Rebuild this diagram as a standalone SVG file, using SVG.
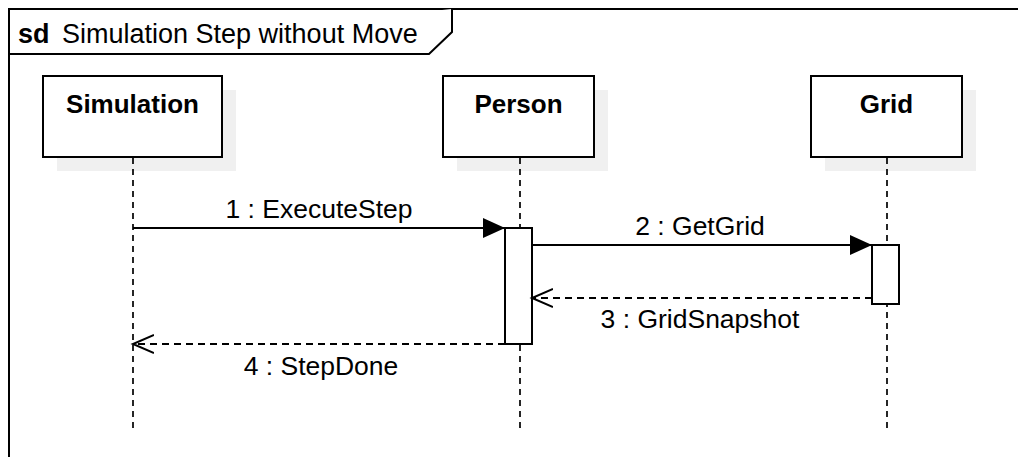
<svg xmlns="http://www.w3.org/2000/svg" width="1018" height="457" viewBox="0 0 1018 457">
<style>
text{font-family:"Liberation Sans",Arial,sans-serif;fill:#000}
.name{font-size:26px;font-weight:bold;text-anchor:middle}
.lbl{font-size:26.5px;text-anchor:middle}
.box{fill:#fff;stroke:#000;stroke-width:2}
.shadow{fill:#f0f0f0;stroke:none}
.life{stroke:#000;stroke-width:1.7;stroke-dasharray:6 5;fill:none}
.msg{stroke:#000;stroke-width:2;fill:none}
.ret{stroke:#000;stroke-width:2;fill:none;stroke-dasharray:7 5}
.act{fill:#fff;stroke:#000;stroke-width:2}
</style>
<defs>
<marker id="filled" markerWidth="24" markerHeight="22" refX="22" refY="10" orient="auto" markerUnits="userSpaceOnUse">
<path d="M0,0 L22,10 L0,20 Z" fill="#000"/>
</marker>
<marker id="open" markerWidth="24" markerHeight="22" refX="21" refY="10" orient="auto" markerUnits="userSpaceOnUse">
<path d="M0,1 L21,10 L0,19" fill="none" stroke="#000" stroke-width="2"/>
</marker>
</defs>
<rect x="0" y="0" width="1018" height="457" fill="#fff"/>
<g id="frame">
<rect x="9" y="9" width="1100" height="500" fill="#fff" stroke="#000" stroke-width="2"/>
<path d="M9,54 L429,54 L452,32 L452,9" fill="#fff" stroke="#000" stroke-width="2"/>
<text x="18" y="43" style="font-size:27px;font-weight:bold">sd</text>
<text x="62" y="43" style="font-size:27px">Simulation Step without Move</text>
</g>
<g id="simulation">
<rect class="shadow" x="57" y="90" width="179" height="81"/>
<line class="life" x1="133" y1="158" x2="133" y2="428"/>
<rect class="box" x="43" y="76" width="179" height="81"/>
<text class="name" x="132.5" y="113">Simulation</text>
</g>
<g id="person">
<rect class="shadow" x="457" y="90" width="151" height="81"/>
<line class="life" x1="520" y1="158" x2="520" y2="428"/>
<rect class="box" x="443" y="76" width="151" height="81"/>
<text class="name" x="518.5" y="113">Person</text>
<rect class="act" x="505" y="228" width="27" height="116"/>
</g>
<g id="grid">
<rect class="shadow" x="825" y="90" width="151" height="81"/>
<line class="life" x1="887" y1="158" x2="887" y2="428"/>
<rect class="box" x="811" y="76" width="151" height="81"/>
<text class="name" x="886.5" y="113">Grid</text>
<rect class="act" x="872" y="245" width="27" height="59"/>
</g>
<g id="connectors">
<line class="msg" x1="133" y1="228" x2="505" y2="228" marker-end="url(#filled)"/>
<text class="lbl" x="319" y="218">1 : ExecuteStep</text>
<line class="msg" x1="532" y1="245" x2="872" y2="245" marker-end="url(#filled)"/>
<text class="lbl" x="700" y="235">2 : GetGrid</text>
<line class="ret" x1="872" y1="298" x2="532" y2="298" marker-end="url(#open)"/>
<text class="lbl" x="700" y="328">3 : GridSnapshot</text>
<line class="ret" x1="505" y1="344" x2="133" y2="344" marker-end="url(#open)"/>
<text class="lbl" x="321" y="375">4 : StepDone</text>
</g>
</svg>
